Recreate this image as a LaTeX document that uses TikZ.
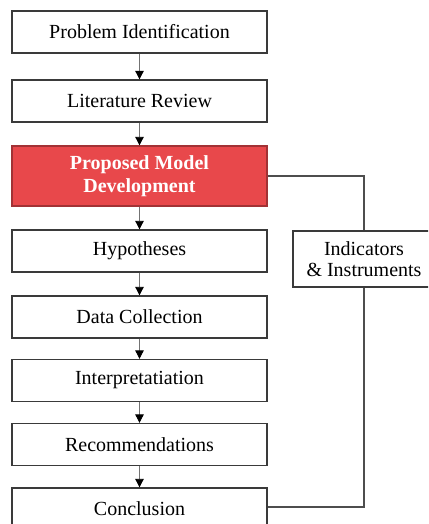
\documentclass[tikz,border=0pt]{standalone}
\usepackage{fontspec}
\setmainfont{Liberation Serif}
\usetikzlibrary{arrows.meta}
\definecolor{modelred}{HTML}{E8484B}
\definecolor{boxline}{HTML}{3A3A3A}

\tikzset{
	stage/.style={draw=boxline, line width=1.3pt, fill=white, minimum width=255pt, minimum height=42pt, inner sep=0pt, align=center, font=\fontsize{20}{22}\selectfont},
	modelstage/.style={stage, fill=modelred, draw=modelred!70!black, text=white, font=\fontsize{20}{23}\selectfont\bfseries},
	sidebox/.style={stage, minimum width=142pt, minimum height=56pt, font=\fontsize{20}{20.5}\selectfont},
	flow/.style={draw=black!55, line width=0.8pt, -{Triangle[width=8.5pt, length=8.5pt, color=black]}},
	feedback/.style={draw=boxline!90, line width=1.3pt}
}

\begin{document}
\begin{tikzpicture}[x=1pt, y=-1pt]
		%%%%% START %%%%%
		\clip (0, 0) rectangle (428, 524);
		\fill[white] (0, 0) rectangle (428, 524);
		
		% main column
		\node[stage] (problem) at (139.5, 32) {Problem Identification};
		\node[stage] (review) at (139.5, 101) {Literature Review};
		\node[modelstage, minimum height=60pt] (model) at (139.5, 176) {Proposed Model\\Development};
		\node[stage] (hypo) at (139.5, 251) {Hypotheses};
		\node[stage] (data) at (139.5, 317) {Data Collection};
		\node[stage] (interp) at (139.5, 380.5) {Interpretatiation};
		\node[stage] (recom) at (139.5, 444.5) {Recommendations};
		\node[stage] (concl) at (139.5, 509) {Conclusion};
		
		% side box
		\node[sidebox] (indic) at (364, 259) {Indicators\\\& Instruments};
		
		% arrows
		\draw[flow] (problem) -- (review);
		\draw[flow] (review) -- (model);
		\draw[flow] (model) -- (hypo);
		\draw[flow] (hypo) -- (data);
		\draw[flow] (data) -- (interp);
		\draw[flow] (interp) -- (recom);
		\draw[flow] (recom) -- (concl);
		
		% feedback loop
		\draw[feedback] (model.east) -- (model.east -| indic.north) -- (indic.north);
		\draw[feedback] (indic.south) -- (indic.south |- 0, 507) -- (concl.east |- 0, 507);
		
		%%%%% END %%%%%
	\end{tikzpicture}
\end{document}
